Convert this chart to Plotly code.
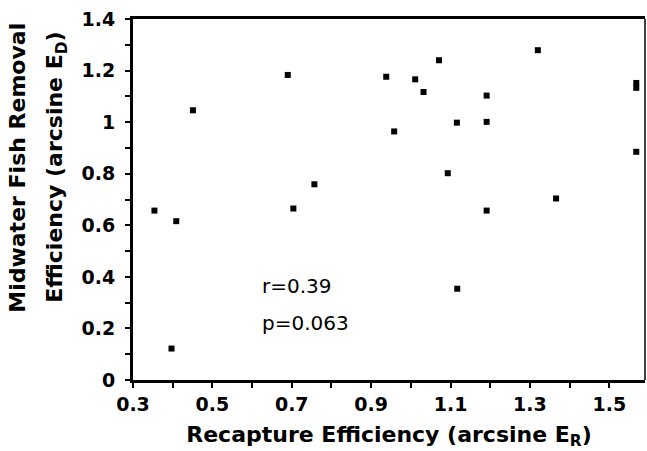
import plotly.graph_objects as go

recapture = [0.451, 0.690, 0.938, 1.011, 1.071, 1.032, 1.320, 1.191, 1.568, 1.568,
             1.116, 1.191, 0.958, 1.568, 1.093, 0.757, 0.354, 0.409, 0.704, 1.191,
             1.366, 1.117, 0.397]
removal = [1.046, 1.183, 1.176, 1.166, 1.240, 1.117, 1.279, 1.103, 1.152, 1.133,
           0.998, 1.001, 0.964, 0.885, 0.802, 0.759, 0.657, 0.616, 0.665, 0.657,
           0.704, 0.354, 0.122]

x_ticks = [0.3, 0.5, 0.7, 0.9, 1.1, 1.3, 1.5]
x_tick_labels = ["0.3", "0.5", "0.7", "0.9", "1.1", "1.3", "1.5"]
y_ticks = [0, 0.2, 0.4, 0.6, 0.8, 1.0, 1.2, 1.4]
y_tick_labels = ["0", "0.2", "0.4", "0.6", "0.8", "1", "1.2", "1.4"]

FONT = "DejaVu Sans"

fig = go.Figure()
fig.add_trace(go.Scatter(
    x=recapture, y=removal, mode="markers",
    marker=dict(symbol="square", size=6, color="black"),
    showlegend=False, hoverinfo="skip"))

fig.update_layout(
    width=647, height=451,
    margin=dict(l=133, r=2, t=19, b=71),
    paper_bgcolor="white", plot_bgcolor="white",
    font=dict(family=FONT, color="black"),
    xaxis=dict(
        range=[0.3, 1.59], tickvals=x_ticks, ticktext=x_tick_labels,
        ticks="outside", ticklen=5, tickwidth=2, tickcolor="black",
        minor=dict(dtick=0.1, tick0=0.3, ticks="outside", ticklen=5, tickwidth=2, tickcolor="black"),
        showline=True, linewidth=3, linecolor="black", mirror=True,
        showgrid=False, zeroline=False,
        tickfont=dict(family=FONT, size=19, weight="bold"),
        title=dict(text="Recapture Efficiency (arcsine E<sub>R</sub>)",
                   font=dict(family=FONT, size=22, weight="bold"), standoff=13),
    ),
    yaxis=dict(
        range=[0, 1.4], tickvals=y_ticks, ticktext=y_tick_labels,
        ticks="outside", ticklen=5, tickwidth=2, tickcolor="black",
        minor=dict(dtick=0.1, tick0=0, ticks="outside", ticklen=5, tickwidth=2, tickcolor="black"),
        showline=True, linewidth=3, linecolor="black", mirror=False,
        showgrid=False, zeroline=False,
        tickfont=dict(family=FONT, size=19, weight="bold"),
        ticklabelstandoff=6,
    ),
    shapes=[dict(type="line", xref="paper", yref="paper", x0=1, x1=1, y0=0, y1=1,
                 line=dict(color="black", width=1.5))],
    annotations=[
        dict(text="r=0.39", x=0.62, y=0.366, xref="x", yref="y", xanchor="left",
             yanchor="middle", showarrow=False, font=dict(family=FONT, size=20)),
        dict(text="p=0.063", x=0.62, y=0.223, xref="x", yref="y", xanchor="left",
             yanchor="middle", showarrow=False, font=dict(family=FONT, size=20)),
        dict(text="Midwater Fish Removal", x=-0.2246, y=0.588, xref="paper", yref="paper",
             xanchor="center", yanchor="middle", textangle=-90, showarrow=False,
             font=dict(family=FONT, size=22, weight="bold")),
        dict(text="Efficiency (arcsine E<sub>D</sub>)", x=-0.1484, y=0.588, xref="paper", yref="paper",
             xanchor="center", yanchor="middle", textangle=-90, showarrow=False,
             font=dict(family=FONT, size=22, weight="bold")),
    ],
)

fig.write_html("out.html", config={"displayModeBar": False},
               post_script="document.body.style.margin='0';document.body.style.padding='0';")
